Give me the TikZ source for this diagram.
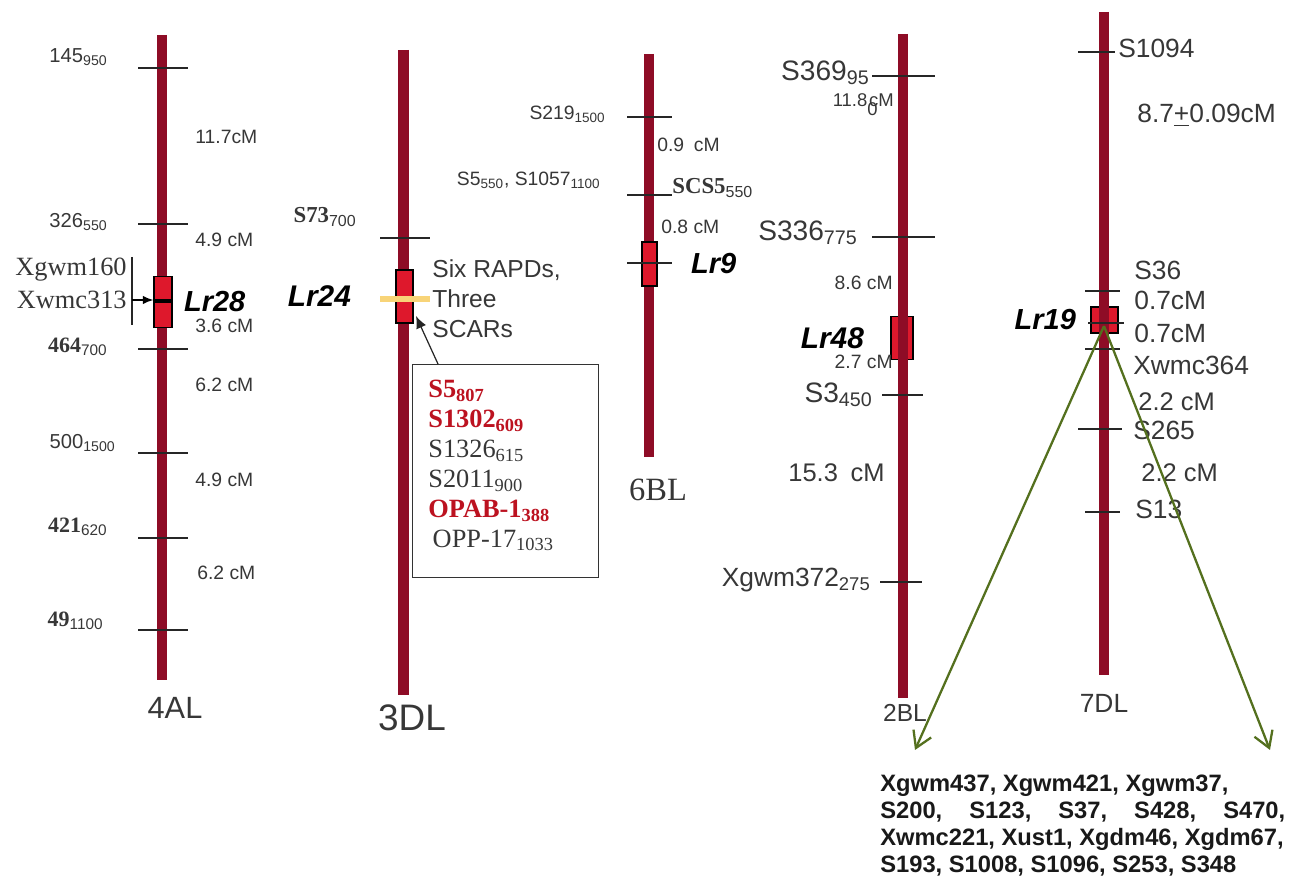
\documentclass[tikz,border=0pt]{standalone}
\usepackage{fontspec}
\setmainfont{Liberation Sans}
\newfontfamily\tnr{Liberation Serif}
\usepackage{tikz}
\usetikzlibrary{arrows.meta, positioning, calc}

\definecolor{chromred}{RGB}{142,12,38}
\definecolor{genered}{RGB}{222,24,44}
\definecolor{markred}{RGB}{188,18,32}
\definecolor{bandyellow}{RGB}{248,212,120}
\definecolor{arrowgreen}{RGB}{84,112,30}
\definecolor{txtgray}{RGB}{55,55,55}

\newcommand{\fsz}[1]{\fontsize{#1}{#1}\selectfont}
\newcommand{\msub}[1]{\textsubscript{\normalfont #1}}

\begin{document}
\begin{tikzpicture}[x=0.02cm, y=-0.02cm,
    chrom/.style={line width=5.7pt, draw=chromred},
    mtick/.style={line width=0.8pt, draw=black!85},
    genebox/.style={rectangle, draw=black, fill=genered, line width=0.8pt, inner sep=0pt},
    lbl/.style={inner sep=0pt, text=txtgray},
    genelbl/.style={inner sep=0pt, font=\fsz{16.5}\bfseries\itshape, text=black},
    chromlbl/.style={inner sep=0pt, text=txtgray},
    ]
    \useasboundingbox (0,0) rectangle (1303,888);

    % 4AL
    \draw[chrom] (162,35) -- (162,680);
    \foreach \y in {68,224,349,453,538,630} \draw[mtick] (138,\y) -- (188,\y);
    \node[genebox, minimum width=0.36cm, minimum height=1.02cm] (lr28) at (163,302) {};
    \draw[line width=2pt] (154,301) -- (172,301);
    \node[genelbl, right=0.22cm of lr28] (lr28lbl) {Lr28};
    \node[lbl, font=\fsz{15}\tnr, anchor=east] (xgwm160) at (127,270) {Xgwm160};
    \node[lbl, font=\fsz{15}\tnr, anchor=east] (xwmc313) at (127,300) {Xwmc313};
    \coordinate (brtop) at (132,257); \coordinate (brbot) at (132,325); \coordinate (brmid) at (132,300);
    \draw[black!85, line width=0.6pt] (brtop) -- (brbot);
    \draw[-{Latex[length=6pt,width=5pt]}, line width=1pt] (brmid) -- (lr28.west |- brmid);
    \node[lbl, font=\fsz{11.5}, anchor=east] (m145) at (108,57) {145\msub{950}};
    \node[lbl, font=\fsz{11.5}, anchor=east] (m326) at (108,222) {326\msub{550}};
    \node[lbl, font=\fsz{12.5}, anchor=east] (m464) at (108,347) {{\tnr\bfseries 464}\msub{700}};
    \node[lbl, font=\fsz{11.5}, anchor=east] (m500) at (116,443) {500\msub{1500}};
    \node[lbl, font=\fsz{12.5}, anchor=east] (m421) at (108,527) {{\tnr\bfseries 421}\msub{620}};
    \node[lbl, font=\fsz{12.5}, anchor=east] (m49) at (104,621) {{\tnr\bfseries 49}\msub{1100}};
    \node[lbl, font=\fsz{11}, anchor=west] (d41) at (195,137) {11.7cM};
    \node[lbl, font=\fsz{11}, anchor=west] (d42) at (195,240) {4.9 cM};
    \node[lbl, font=\fsz{11}, anchor=west] (d43) at (195,326) {3.6 cM};
    \node[lbl, font=\fsz{11}, anchor=west] (d44) at (195,385) {6.2 cM};
    \node[lbl, font=\fsz{11}, anchor=west] (d45) at (195,480) {4.9 cM};
    \node[lbl, font=\fsz{11}, anchor=west] (d46) at (197,573) {6.2 cM};
    \node[chromlbl, font=\fsz{17.5}] (c4al) at (175,708) {4AL};

    % 3DL
    \draw[chrom] (403.5,50) -- (403.5,695);
    \draw[mtick] (380,238) -- (430,238);
    \node[lbl, font=\fsz{13}\tnr\bfseries, anchor=east] (s73) at (357,217) {S73\msub{700}};
    \node[genebox, minimum width=0.34cm, minimum height=1.06cm] (lr24) at (404.5,296.5) {};
    \draw[bandyellow, line width=3.4pt] (380,299) -- (430,299);
    \node[genelbl, font=\fsz{17}\bfseries\itshape, left=0.88cm of lr24] (lr24lbl) {Lr24};
    \node[lbl, font=\fontsize{14}{17.3}\selectfont, align=left, anchor=north west] (rapds) at (432,259) {Six RAPDs,\\Three\\SCARs};
    \node[draw=black!80, line width=0.8pt, minimum width=3.72cm, minimum height=4.26cm, anchor=north west, inner sep=0pt] (list) at (412,364) {};
    \node[anchor=north west, inner sep=0pt, align=left, font=\fontsize{15}{17}\selectfont\tnr, text=txtgray] (listtxt) at (428,380) {%
      {\color{markred}\bfseries S5\textsubscript{807}}\\
      {\color{markred}\bfseries S1302\textsubscript{609}}\\
      S1326\textsubscript{615}\\
      S2011\textsubscript{900}\\
      {\color{markred}\bfseries OPAB-1\textsubscript{388}}\\
      \hspace{2.5pt}OPP-17\textsubscript{1033}};
    \coordinate (liststem) at (438,364); \coordinate (lr24tip) at (416,316);
    \draw[-{Latex[length=7pt,width=6pt]}, black!85, line width=0.7pt] (liststem) -- (lr24tip);
    \node[chromlbl, font=\fsz{21}] (c3dl) at (412,718) {3DL};

    % 6BL
    \draw[chrom] (649,54) -- (649,457);
    \node[genebox, minimum width=0.30cm, minimum height=0.88cm] (lr9) at (649.5,264) {};
    \foreach \y in {117,195,263} \draw[mtick] (627,\y) -- (672,\y);
    \node[genelbl, right=0.66cm of lr9] (lr9lbl) {Lr9};
    \node[lbl, font=\fsz{11}, anchor=east] (s219) at (606,114) {S219\msub{1500}};
    \node[lbl, font=\fsz{11}, anchor=west] (d61) at (657,145) {0.9\enspace cM};
    \node[lbl, font=\fsz{11}, anchor=east] (s5) at (601,180) {S5\msub{550}, S1057\msub{1100}};
    \node[lbl, font=\fsz{13}\tnr\bfseries, anchor=west] (scs5) at (672,188) {SCS5\msub{550}};
    \node[lbl, font=\fsz{11}, anchor=west] (d62) at (661,227) {0.8 cM};
    \node[chromlbl, font=\fsz{18.5}\tnr] (c6bl) at (658,490) {6BL};

    % 2BL
    \node[genebox, minimum width=0.44cm, minimum height=0.86cm] (lr48) at (902,338) {};
    \draw[chrom] (903,34) -- (903,698);
    \draw[mtick] (872,76) -- (935,76);
    \draw[mtick] (872,237) -- (935,237);
    \draw[mtick] (882,395) -- (923,395);
    \draw[mtick] (880,582) -- (922,582);
    \node[genelbl, font=\fsz{17}\bfseries\itshape, left=0.52cm of lr48] (lr48lbl) {Lr48};
    \node[lbl, font=\fsz{16}, anchor=east] (s369) at (870,73) {S369\msub{95}};
    \node[lbl, font=\fsz{10.5}, anchor=east] (d21) at (894,105) {11.8\rlap{\raisebox{-0.5em}{0}}\kern1pt cM};
    \node[lbl, font=\fsz{16}, anchor=east] (s336) at (858,233) {S336\msub{775}};
    \node[lbl, font=\fsz{11}, anchor=east] (d22) at (893,283) {8.6 cM};
    \node[lbl, font=\fsz{11}, anchor=east] (d23) at (893,362) {2.7 cM};
    \node[lbl, font=\fsz{16}, anchor=east] (s3) at (873,395) {S3\msub{450}};
    \node[lbl, font=\fsz{14.5}, anchor=east] (d24) at (885,473) {15.3\enspace cM};
    \node[lbl, font=\fsz{15}, anchor=east] (xgwm372) at (871,580) {Xgwm372\msub{275}};
    \node[chromlbl, font=\fsz{14}] (c2bl) at (905,713) {2BL};

    % 7DL
    \node[genebox, minimum width=0.54cm, minimum height=0.52cm] (lr19) at (1104.5,320) {};
    \draw[chrom] (1104,12) -- (1104,675);
    \draw[mtick] (1078,52) -- (1115,52);
    \draw[mtick] (1085,291) -- (1120,291);
    \draw[mtick] (1088,323) -- (1124,323);
    \draw[mtick] (1085,349) -- (1120,349);
    \draw[mtick] (1078,429) -- (1122,429);
    \draw[mtick] (1085,512) -- (1120,512);
    \node[genelbl, left=0.28cm of lr19] (lr19lbl) {Lr19};
    \node[lbl, font=\fsz{15}, anchor=west] (s1094) at (1118,48) {S1094};
    \node[lbl, font=\fsz{15}, anchor=west] (d71) at (1137,115) {8.7\underline{+}0.09cM};
    \node[lbl, font=\fsz{15}, anchor=west] (s36) at (1134,270) {S36};
    \node[lbl, font=\fsz{15}, anchor=west] (d72) at (1134,300) {0.7cM};
    \node[lbl, font=\fsz{15}, anchor=west] (d73) at (1134,333) {0.7cM};
    \node[lbl, font=\fsz{15}, anchor=west] (xwmc364) at (1133,365) {Xwmc364};
    \node[lbl, font=\fsz{14.5}, anchor=west] (d74) at (1138,402) {2.2 cM};
    \node[lbl, font=\fsz{15}, anchor=west] (s265) at (1133,430) {S265};
    \node[lbl, font=\fsz{14.5}, anchor=west] (d75) at (1141,473) {2.2 cM};
    \node[lbl, font=\fsz{15}, anchor=west] (s13) at (1135,509) {S13};
    \node[chromlbl, font=\fsz{15}] (c7dl) at (1104,703) {7DL};

    % Arrows to the Lr19 marker list
    \coordinate (apex) at (1104,326);
    \coordinate (leftend) at (915,750);
    \coordinate (rightend) at (1270,750);
    \draw[arrowgreen, line width=1.3pt, -{Straight Barb[length=9pt,width=11pt]}] (apex) -- (leftend);
    \draw[arrowgreen, line width=1.3pt, -{Straight Barb[length=9pt,width=11pt]}] (apex) -- (rightend);
    \node[anchor=north west, inner sep=0pt, align=left, font=\fontsize{13.5}{15.3}\selectfont\bfseries, text=black!90] (markers19) at (880,775) {%
      Xgwm437, Xgwm421, Xgwm37,\\
      \makebox[8.1cm][s]{S200, S123, S37, S428, S470,}\\
      Xwmc221, Xust1, Xgdm46, Xgdm67,\\
      S193, S1008, S1096, S253, S348};
\end{tikzpicture}
\end{document}
